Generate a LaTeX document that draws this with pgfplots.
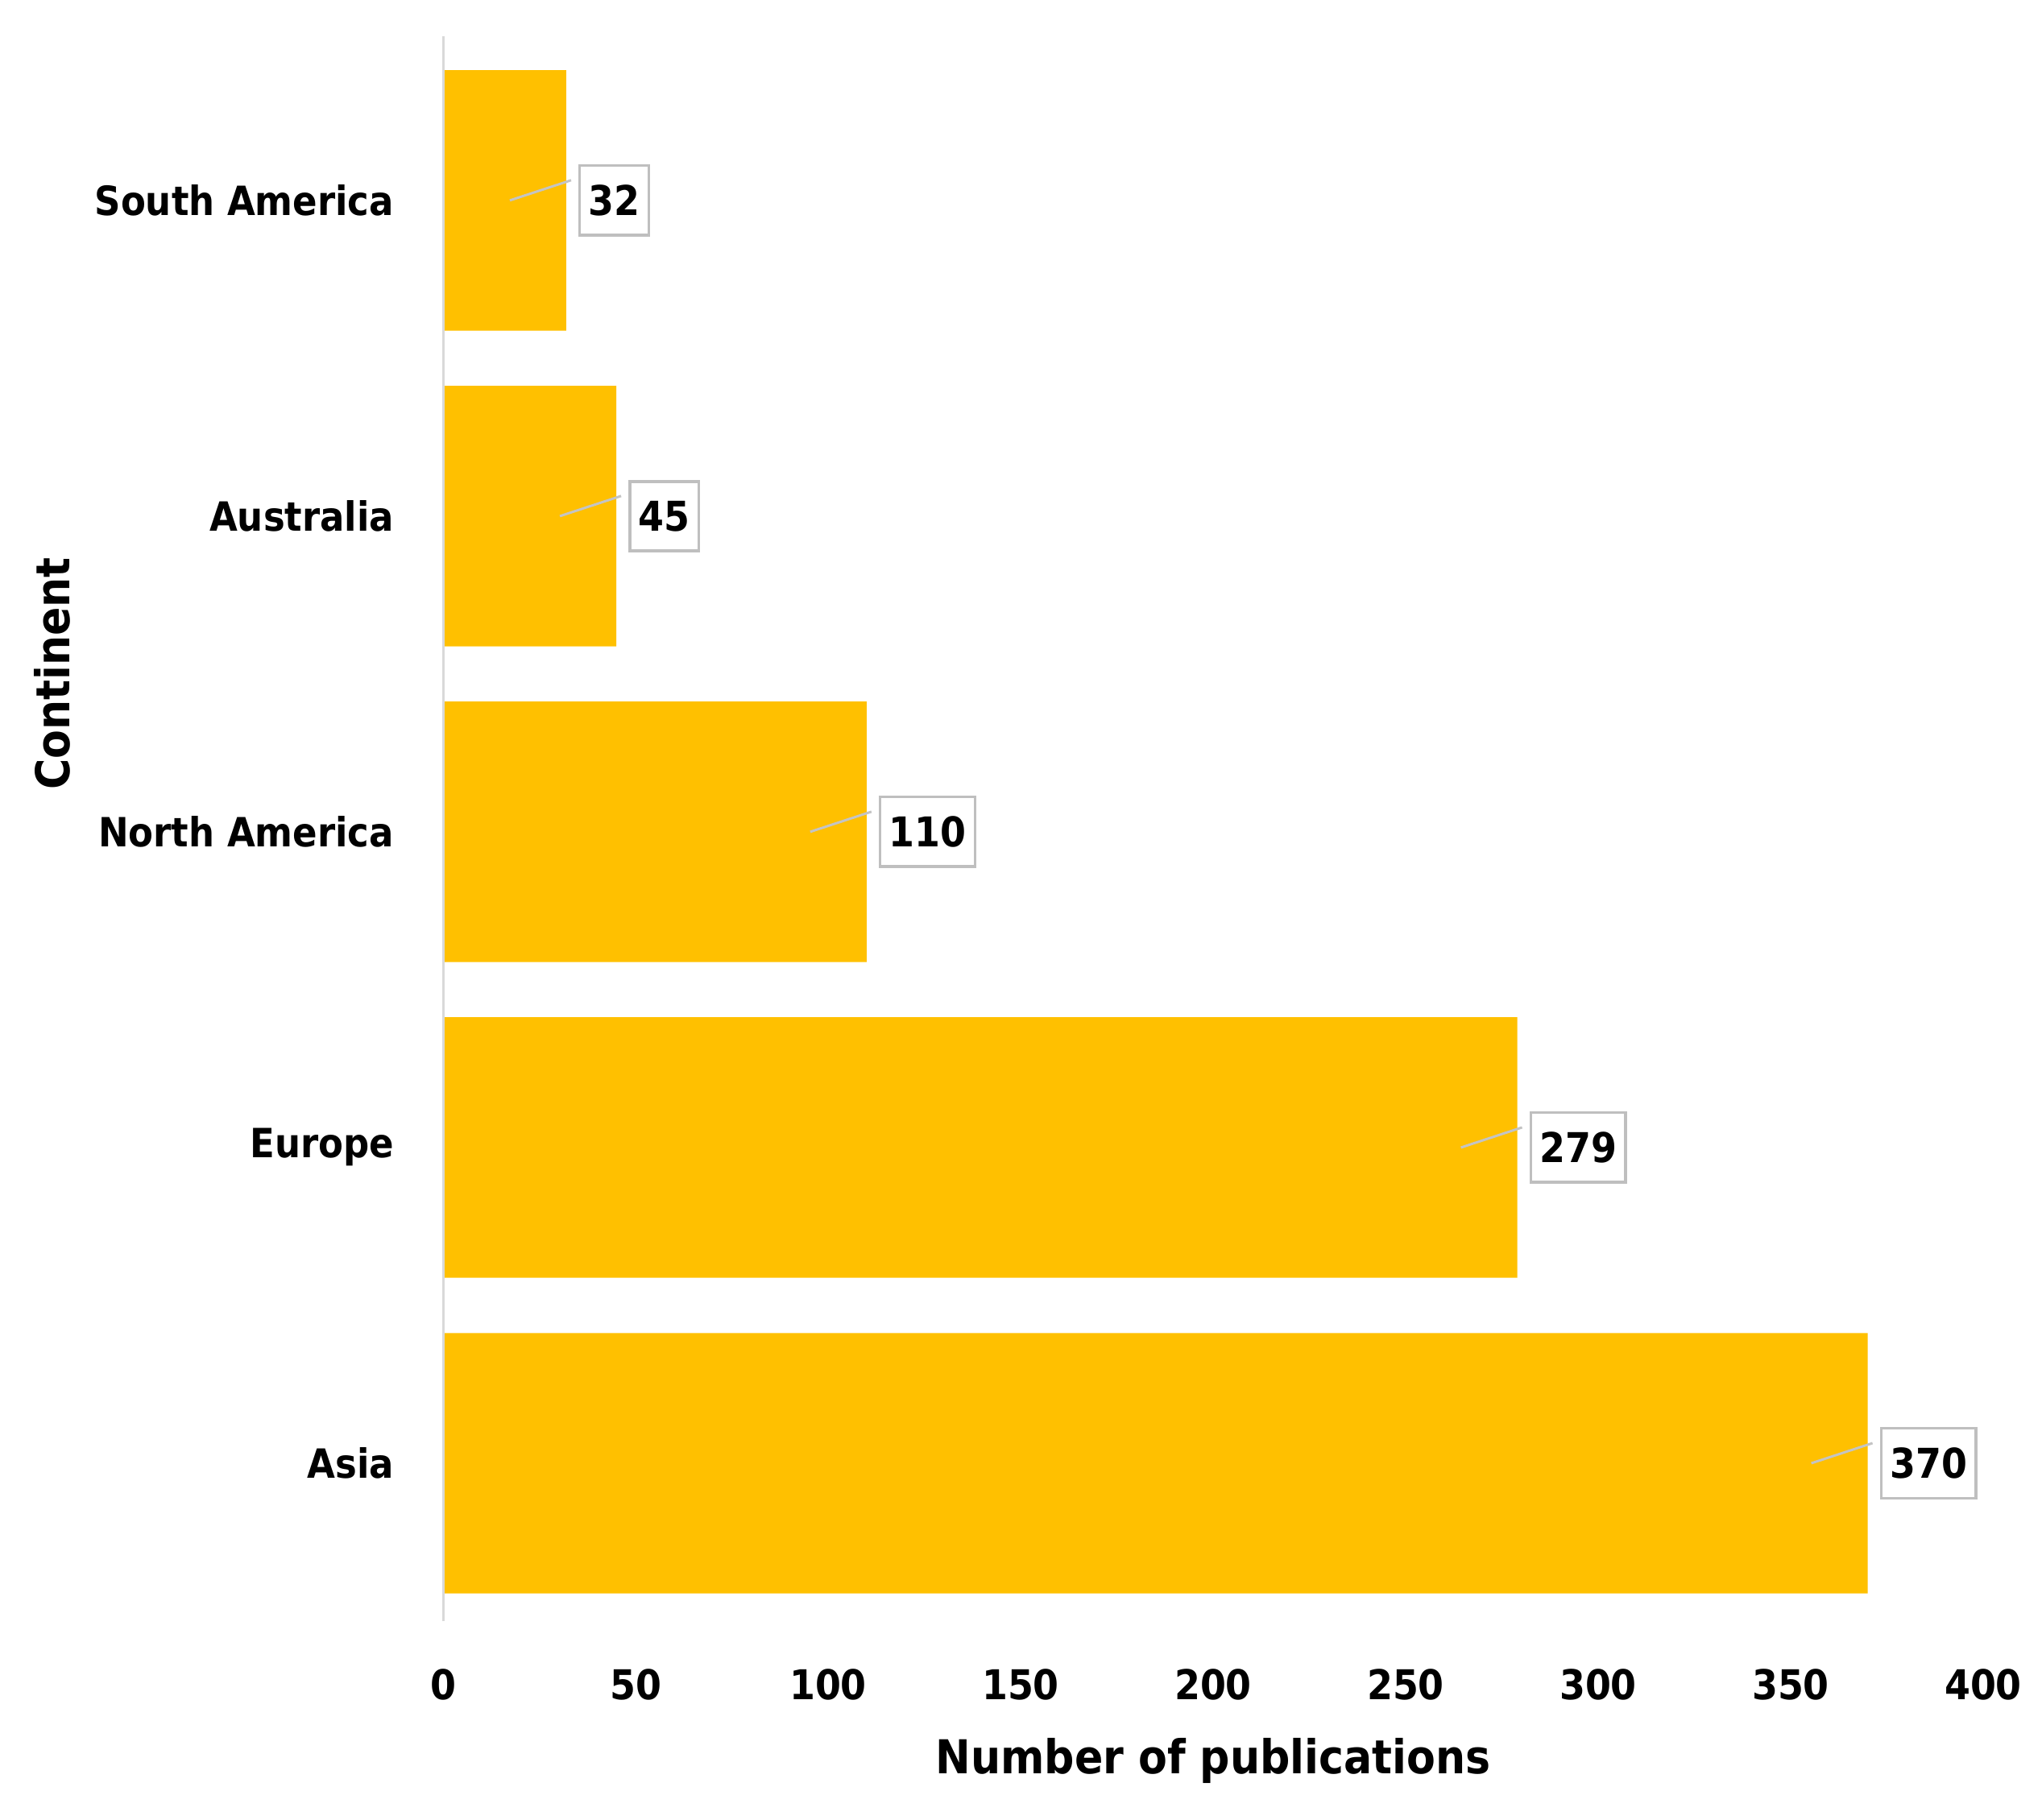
\documentclass[border=0pt]{standalone}
\usepackage{fontspec}
\setmainfont{DejaVu Sans Condensed}
\usepackage{pgfplots}
\pgfplotsset{compat=1.18}
\definecolor{barc}{HTML}{FFC000}
\definecolor{leadc}{HTML}{C4C4C4}
\definecolor{boxc}{HTML}{BFBFBF}
\pgfdeclareplotmark{leader}{%
  \pgfpathmoveto{\pgfqpoint{-14pt}{0pt}}%
  \pgfpathlineto{\pgfqpoint{1.2pt}{5pt}}%
  \pgfusepathqstroke}
\pgfplotstableread{
idx val
0 370
1 279
2 110
3 45
4 32
}\datatab
\begin{document}
\begin{tikzpicture}
\begin{axis}[
  name=ax,
  scale only axis,
  width=382.4pt, height=393.6pt,
  xmin=0, xmax=400, ymin=-0.5, ymax=4.52,
  xtick={0,50,...,400},
  ytick={0,1,2,3,4},
  yticklabels={Asia,Europe,North America,Australia,South America},
  major tick length=0pt,
  axis line style={draw=none},
  /pgf/number format/assume math mode=true,
  xticklabel style={font=\bfseries\fontsize{10.2}{12}\selectfont, anchor=north, inner sep=0pt, yshift=-11.8pt},
  yticklabel style={font=\bfseries\fontsize{10}{12}\selectfont, anchor=east, inner sep=0pt, xshift=-12pt},
  xlabel={Number of publications},
  ylabel={Continent},
  label style={font=\bfseries\fontsize{11.6}{14}\selectfont},
  xlabel style={at={(rel axis cs:0.5,-0.0879)}, anchor=center},
  ylabel style={at={(rel axis cs:-0.2537,0.5978)}, anchor=center},
  clip=false,
]
\addplot[xbar, bar width=0.825, fill=barc, draw=none,
  nodes near coords,
  every node near coord/.append style={anchor=west, xshift=3pt,
    draw=boxc, line width=0.7pt, fill=white, text=black,
    inner xsep=2.2pt, inner ysep=4.8pt,
    font=\bfseries\fontsize{10.2}{12}\selectfont},
  /pgf/number format/assume math mode=true]
  table[x=val, y=idx] {\datatab};
\addplot[only marks, mark=leader, draw=leadc, line width=0.6pt]
  table[x=val, y=idx] {\datatab};
\draw[black!15, line width=0.6pt] (rel axis cs:0,0) -- (rel axis cs:0,1);
\end{axis}
\pgfresetboundingbox
\path[use as bounding box] ([xshift=-110pt,yshift=-49.2pt]ax.south west) rectangle ([xshift=14.6pt,yshift=9pt]ax.north east);
\end{tikzpicture}
\end{document}
